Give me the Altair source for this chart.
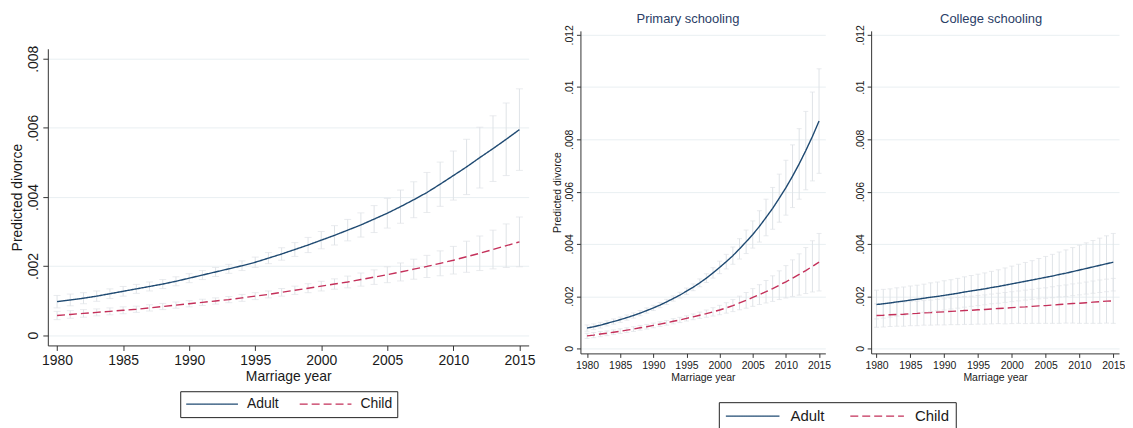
import altair as alt
import pandas as pd

# ---------------- data ----------------
years = list(range(1980, 2016))
groups = ["Adult", "Child"]
x_ticks = [1980, 1985, 1990, 1995, 2000, 2005, 2010, 2015]
y_ticks_all = [0, 0.002, 0.004, 0.006, 0.008]
y_ticks_edu = [0, 0.002, 0.004, 0.006, 0.008, 0.010, 0.012]
panel_titles = ["Primary schooling", "College schooling"]

# full sample
all_adult = [.00097, .00102, .00107, .00113, .00120, .00127, .00134, .00141, .00148, .00156,
             .00165, .00174, .00183, .00192, .00201, .00211, .00223, .00235, .00248, .00261,
             .00275, .00289, .00304, .00319, .00336, .00353, .00372, .00392, .00413, .00437,
             .00462, .00487, .00514, .00540, .00567, .00595]
all_adult_hw = [.00018, .00017, .00016, .00015, .00014, .00014, .00013, .00013, .00013, .00013,
                .00013, .00013, .00013, .00013, .00014, .00015, .00016, .00018, .00020, .00022,
                .00025, .00028, .00031, .00035, .00039, .00043, .00048, .00052, .00058, .00064,
                .00071, .00080, .00088, .00095, .00105, .00118]
all_child = [.00057, .00060, .00063, .00066, .00069, .00072, .00075, .00079, .00083, .00087,
             .00091, .00095, .00099, .00103, .00108, .00113, .00118, .00124, .00130, .00136,
             .00142, .00148, .00154, .00161, .00168, .00175, .00183, .00191, .00199, .00208,
             .00217, .00227, .00237, .00248, .00259, .00270]
all_child_hw = [.00012, .00011, .00011, .00010, .00010, .00010, .00009, .00009, .00009, .00009,
                .00009, .00009, .00009, .00009, .00010, .00010, .00010, .00011, .00012, .00013,
                .00014, .00015, .00017, .00019, .00021, .00023, .00026, .00029, .00032, .00036,
                .00040, .00045, .00050, .00056, .00063, .00072]

# primary schooling
prim_adult = [.00078, .00083, .00089, .00096, .00103, .00110, .00118, .00126, .00135, .00145,
              .00155, .00166, .00178, .00191, .00204, .00219, .00234, .00251, .00269, .00289,
              .00310, .00332, .00355, .00381, .00408, .00436, .00467, .00501, .00536, .00575,
              .00615, .00659, .00706, .00757, .00811, .00870]
prim_adult_hw = [.00012, .00011, .00011, .00010, .00010, .00010, .00010, .00010, .00010, .00010,
                 .00010, .00010, .00010, .00010, .00011, .00012, .00013, .00015, .00017, .00020,
                 .00024, .00028, .00033, .00039, .00045, .00052, .00060, .00070, .00080, .00092,
                 .00105, .00120, .00135, .00150, .00170, .00200]
prim_child = [.00048, .00051, .00055, .00058, .00062, .00066, .00070, .00074, .00079, .00083,
              .00088, .00093, .00098, .00104, .00109, .00115, .00121, .00127, .00133, .00140,
              .00147, .00155, .00164, .00174, .00184, .00195, .00206, .00217, .00229, .00242,
              .00255, .00269, .00283, .00298, .00314, .00330]
prim_child_hw = [.00010, .00010, .00010, .00009, .00009, .00009, .00009, .00009, .00009, .00009,
                 .00009, .00009, .00009, .00010, .00010, .00010, .00011, .00012, .00014, .00016,
                 .00018, .00020, .00023, .00026, .00030, .00034, .00038, .00043, .00049, .00055,
                 .00062, .00070, .00079, .00088, .00098, .00110]

# college schooling
coll_adult = [.00168, .00171, .00174, .00178, .00181, .00185, .00188, .00192, .00196, .00199,
              .00203, .00207, .00211, .00216, .00220, .00224, .00228, .00233, .00237, .00242,
              .00247, .00252, .00257, .00262, .00267, .00272, .00277, .00283, .00288, .00294,
              .00300, .00306, .00312, .00318, .00324, .00330]
coll_adult_hw = [.00055, .00055, .00054, .00054, .00054, .00054, .00054, .00054, .00055, .00055,
                 .00056, .00056, .00057, .00058, .00059, .00060, .00061, .00062, .00064, .00066,
                 .00068, .00070, .00072, .00074, .00077, .00080, .00083, .00086, .00089, .00092,
                 .00095, .00098, .00101, .00104, .00107, .00110]
coll_child = [.00126, .00127, .00129, .00130, .00131, .00133, .00134, .00136, .00137, .00139,
              .00140, .00142, .00143, .00145, .00146, .00148, .00149, .00151, .00153, .00154,
              .00156, .00158, .00159, .00161, .00163, .00164, .00166, .00168, .00170, .00172,
              .00173, .00175, .00177, .00179, .00181, .00182]
coll_child_hw = [.00045, .00045, .00045, .00045, .00046, .00046, .00047, .00047, .00048, .00049,
                 .00050, .00051, .00052, .00053, .00054, .00055, .00056, .00057, .00058, .00060,
                 .00061, .00062, .00064, .00065, .00067, .00068, .00070, .00072, .00073, .00075,
                 .00077, .00079, .00081, .00083, .00084, .00086]


def make_df(adult, adult_hw, child, child_hw):
    rows = []
    for g, vals, hws in (("Adult", adult, adult_hw), ("Child", child, child_hw)):
        for yr, v, h in zip(years, vals, hws):
            rows.append({"group": g, "year": yr, "value": v, "lo": v - h, "hi": v + h})
    return pd.DataFrame(rows)


df_all = make_df(all_adult, all_adult_hw, all_child, all_child_hw)
df_prim = make_df(prim_adult, prim_adult_hw, prim_child, prim_child_hw)
df_coll = make_df(coll_adult, coll_adult_hw, coll_child, coll_child_hw)

# ---------------- style ----------------
FONT = "Liberation Sans"
AXIS_COL = "#333333"
TEXT_COL = "#1a1a1a"
GRID_COL = "#e9eff2"
CI_COL = "#dfe3e7"
LINE_COLS = ["#1f4a72", "#c4305a"]
DASHES = [[1, 0], [8, 4]]
LABEL_EXPR = "datum.value == 0 ? '0' : replace(format(datum.value, '.3~f'), '0.', '.')"


def panel(df, xdom, ydom, yticks, yrange, w, h, fs, tick, cap, ytitle, xoffset,
          legend, title=None, title_dx=0):
    xs = alt.Scale(domain=xdom, nice=False, zero=False)
    if yrange is not None:
        ysc = alt.Scale(domain=ydom, nice=False, zero=False, range=yrange)
    else:
        ysc = alt.Scale(domain=ydom, nice=False, zero=False)
    xax = alt.Axis(values=x_ticks, format="d", title="Marriage year", labelFontSize=fs,
                   titleFontSize=fs, tickSize=tick, labelPadding=3, titlePadding=2,
                   grid=False, offset=xoffset, labelFlush=False, labelOverlap=False,
                   titleFontWeight="normal")
    yargs = dict(values=yticks, labelExpr=LABEL_EXPR, labelAngle=270, labelAlign="center",
                 labelBaseline="bottom", labelFontSize=fs, tickSize=tick, labelPadding=2,
                 grid=True, gridColor=GRID_COL, labelFlush=False, labelOverlap=False)
    if ytitle:
        yax = alt.Axis(title="Predicted divorce", titleFontSize=fs, titlePadding=2,
                       titleFontWeight="normal", **yargs)
    else:
        yax = alt.Axis(title=None, **yargs)

    X = alt.X("year:Q", scale=xs, axis=xax)
    base = alt.Chart(df)
    bars = base.mark_rule(color=CI_COL, strokeWidth=1).encode(
        x=X, y=alt.Y("lo:Q", scale=ysc, axis=yax), y2="hi:Q")
    cap_lo = base.mark_tick(color=CI_COL, size=cap, thickness=1, orient="horizontal").encode(
        x=X, y=alt.Y("lo:Q", scale=ysc, axis=yax))
    cap_hi = base.mark_tick(color=CI_COL, size=cap, thickness=1, orient="horizontal").encode(
        x=X, y=alt.Y("hi:Q", scale=ysc, axis=yax))
    cscale = alt.Scale(domain=groups, range=LINE_COLS)
    dscale = alt.Scale(domain=groups, range=DASHES)
    color = alt.Color("group:N", scale=cscale, legend=legend)
    dash = alt.StrokeDash("group:N", scale=dscale, legend=legend)
    lines = base.mark_line(strokeWidth=1.4).encode(
        x=X, y=alt.Y("value:Q", scale=ysc, axis=yax), color=color, strokeDash=dash,
        detail="group:N")
    props = dict(width=w, height=h)
    if title is not None:
        props["title"] = alt.TitleParams(text=title, fontSize=13, font=FONT, color="#2a3d66",
                                         fontWeight="normal", anchor="middle", frame="group",
                                         offset=-1, dx=title_dx)
    return alt.layer(bars, cap_lo, cap_hi, lines).properties(**props)


def legend(x, y, fs, sym, off, colpad, pad):
    return alt.Legend(orient="none", legendX=x, legendY=y, direction="horizontal", title=None,
                      symbolType="stroke", symbolSize=sym, symbolStrokeWidth=1.4,
                      clipHeight=16, labelFontSize=fs, labelFont=FONT, labelColor=TEXT_COL,
                      labelOffset=off, columnPadding=colpad, padding=pad,
                      strokeColor="#222222", fillColor="white", columns=2)


H = 324
leg_left = legend(133, 362, 14, 2700, 8, 20, 5)
leg_right = legend(139, 373, 15, 2900, 10, 24, 6)

left = panel(df_all, [1979.3, 2015.7], [-0.000297, 0.00829], y_ticks_all, [316, 18],
             483, H, 14, 5, 7, True, -8, leg_left)
mid = panel(df_prim, [1979.0, 2015.95], [-0.00019, 0.012152], y_ticks_edu, None,
            246, H, 10.5, 4, 5, True, 0, leg_right, title=panel_titles[0], title_dx=-15)
right = panel(df_coll, [1979.2, 2015.85], [-0.00019, 0.012152], y_ticks_edu, None,
              249, H, 10.5, 4, 5, False, 0, leg_right, title=panel_titles[1], title_dx=-4)

inner = alt.hconcat(mid, right, spacing=24).resolve_scale(color="shared", strokeDash="shared")

chart = alt.hconcat(left, inner, spacing=17).resolve_scale(
    color="independent", strokeDash="independent"
).properties(
    padding={"left": 2, "top": 3, "right": 0, "bottom": 0},
    background="white",
).configure_view(stroke=None).configure_axis(
    domainColor=AXIS_COL, tickColor=AXIS_COL, labelColor=TEXT_COL, titleColor=TEXT_COL,
    labelFont=FONT, titleFont=FONT, domainWidth=1, tickWidth=1,
)

chart.save("out.html", embed_options={"renderer": "svg", "actions": False})
